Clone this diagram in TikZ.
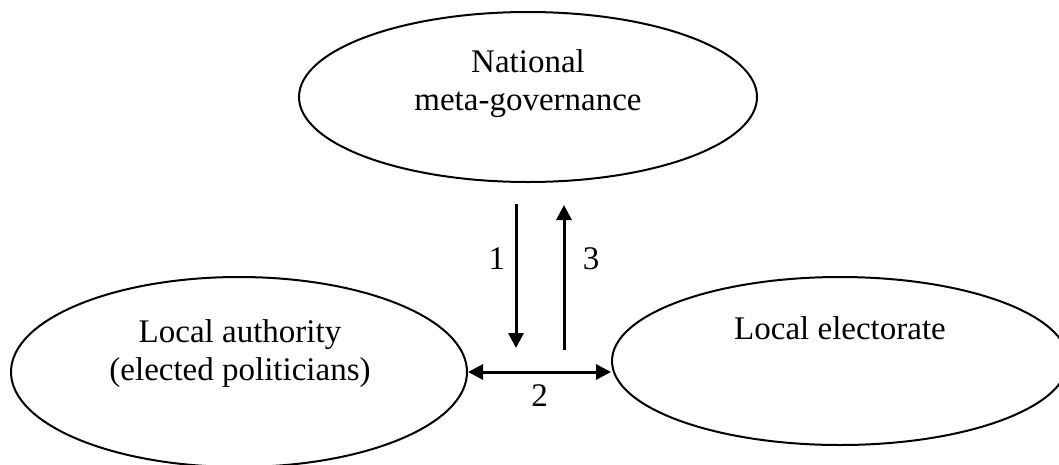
\documentclass[tikz,border=0pt]{standalone}
\usepackage{fontspec}
\setmainfont{Liberation Serif}
\usetikzlibrary{shapes.geometric, arrows.meta, positioning}

\begin{document}
\begin{tikzpicture}[
    x=1pt, y=-1pt, >={Triangle[length=15pt, width=15pt]},
    actor/.style={ellipse, draw, line width=2pt, inner sep=0pt},
    caption/.style={align=center, font=\fontsize{33}{38}\selectfont},
    flow/.style={->, line width=3pt}
]
    \useasboundingbox (0,0) rectangle (1059,464);

    % Actors (outline) and their names
    \node[actor, minimum width=458pt, minimum height=170pt] (nat) at (528,97) {};
    \node[actor, minimum width=456pt, minimum height=190pt] (auth) at (239,372) {};
    \node[actor, minimum width=456pt, minimum height=168pt] (elec) at (840,361) {};

    \node[caption] (nat-txt) at (528,84) {National\\meta-governance};
    \node[caption] (auth-txt) at (240,354) {Local authority\\(elected politicians)};
    \node[caption] (elec-txt) at (840,328) {Local electorate};

    % Steps 1, 2, 3
    \coordinate (d1) at (516,204);
    \coordinate (d2) at (516,348);
    \coordinate (u1) at (564,350);
    \coordinate (u2) at (564,205);

    \draw[flow] (d1) -- node[caption, left=6pt, pos=0.38] {1} (d2);
    \draw[flow] (u1) -- node[caption, right=14pt, pos=0.63] {3} (u2);
    \draw[flow, <->] (auth.east) -- (auth.east -| elec.west)
        node[caption, midway, below=8pt] {2};
\end{tikzpicture}
\end{document}
